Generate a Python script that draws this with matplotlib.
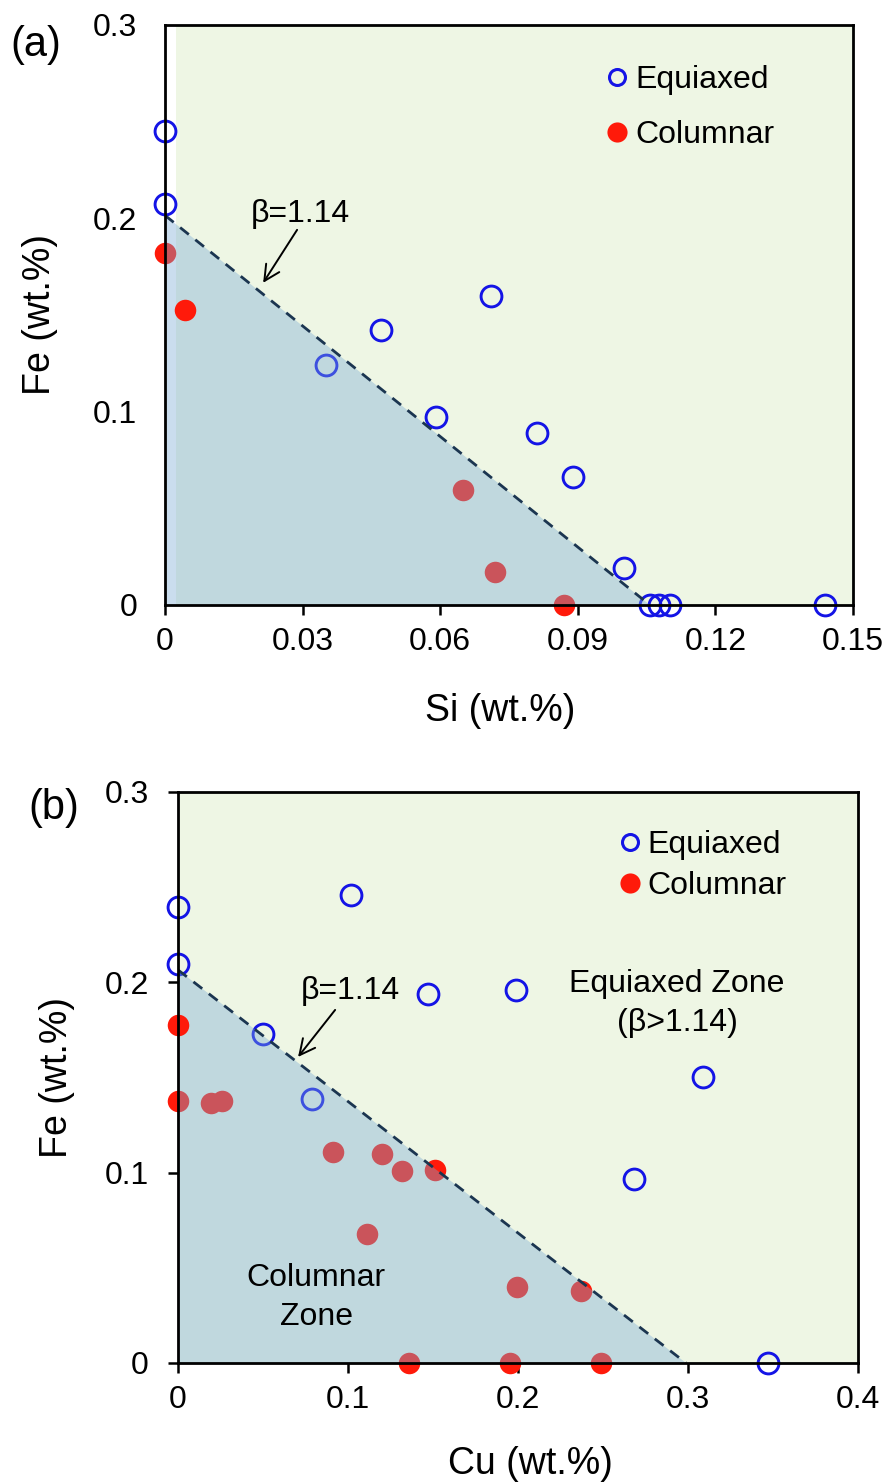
import numpy as np
import matplotlib
matplotlib.use("Agg")
import matplotlib.pyplot as plt
from matplotlib.lines import Line2D
from matplotlib.patches import Polygon, Rectangle

plt.rcParams['font.family'] = ['Liberation Sans', 'DejaVu Sans']

# ---- data: panel (a) Si vs Fe
si_eq = [0, 0, 0.035, 0.047, 0.059, 0.071, 0.081, 0.089, 0.100, 0.1057, 0.1077, 0.110, 0.144]
fe_eq_a = [0.245, 0.2075, 0.124, 0.142, 0.097, 0.160, 0.089, 0.066, 0.019, 0, 0, 0, 0]
si_col = [0, 0.065, 0.072, 0.087]
fe_col_a = [0.182, 0.0595, 0.017, 0]
si_col_top = [0.0044]          # drawn above the shading
fe_col_top_a = [0.1526]
line_a = ([0, 0.1057], [0.2015, 0])

# ---- data: panel (b) Cu vs Fe
cu_eq = [0, 0, 0.102, 0.050, 0.079, 0.147, 0.199, 0.309, 0.268, 0.347]
fe_eq_b = [0.2396, 0.2097, 0.246, 0.173, 0.1387, 0.194, 0.196, 0.150, 0.0967, 0]
cu_col = [0, 0.0194, 0.0259, 0.091, 0.120, 0.132, 0.151, 0.111, 0.1994, 0.237, 0.136, 0.1953, 0.2488]
fe_col_b = [0.1377, 0.1366, 0.1377, 0.1109, 0.1098, 0.1009, 0.1014, 0.0678, 0.040, 0.0378, 0, 0, 0]
cu_col_top = [0]
fe_col_top_b = [0.1776]
line_b = ([0, 0.2988], [0.2065, 0])

green = '#EEF6E4'
shade = '#7BACD5'
blue = '#1414E6'
red = '#FF1A0A'
FS = 23
FL = 27

fig = plt.figure(figsize=(8.88, 14.82), dpi=100)
ax1 = fig.add_axes([0.1858, 0.5918, 0.7748, 0.3914])
ax2 = fig.add_axes([0.2005, 0.0803, 0.7658, 0.3853])


def draw(ax, xe, ye, xc, yc, xt, yt, line, xmax, green_x0):
    ax.set_xlim(0, xmax)
    ax.set_ylim(0, 0.3)
    ax.add_patch(Rectangle((green_x0, 0), xmax - green_x0, 0.3, color=green, zorder=0, lw=0))
    ax.plot(xc, yc, 'o', ms=15.5, color=red, mec='none', zorder=2, clip_on=False)
    ax.plot(xe, ye, 'o', ms=15.0, mfc='none', mec=blue, mew=2.1, zorder=2, clip_on=False)
    tri = Polygon([(0, 0), (0, line[1][0]), (line[0][1], 0)], closed=True,
                  facecolor=shade, alpha=0.4, lw=0, zorder=3)
    ax.add_patch(tri)
    ax.plot(line[0], line[1], '--', color='#1B3550', lw=2.0, dashes=(4, 3), zorder=4)
    ax.plot(xt, yt, 'o', ms=15.5, color=red, mec='none', zorder=5, clip_on=False)
    for s in ax.spines.values():
        s.set_linewidth(2.0)
        s.set_zorder(6)
    ax.tick_params(labelsize=FS, width=1.8, length=7, direction='out')
    handles = [Line2D([], [], ls='none', marker='o', ms=11.5, mfc='none', mec=blue, mew=2.2),
               Line2D([], [], ls='none', marker='o', ms=14.5, color=red, mec='none')]
    return handles


def beta(ax, txt_xy, tail, head):
    ax.text(txt_xy[0], txt_xy[1], 'β=1.14', fontsize=FS, ha='center', va='center', zorder=7)
    ax.annotate('', xy=head, xytext=tail,
                arrowprops=dict(arrowstyle='->', color='black', lw=1.4, shrinkA=0, shrinkB=0,
                                mutation_scale=28), zorder=7)


h = draw(ax1, si_eq, fe_eq_a, si_col, fe_col_a, si_col_top, fe_col_top_a, line_a, 0.15, 0.0024)
ax1.set_xticks([0, 0.03, 0.06, 0.09, 0.12, 0.15])
ax1.set_xticklabels(['0', '0.03', '0.06', '0.09', '0.12', '0.15'])
ax1.set_yticks([0, 0.1, 0.2, 0.3])
ax1.set_yticklabels(['0', '0.1', '0.2', '0.3'])
ax1.tick_params(axis='y', length=0, pad=20)
ax1.tick_params(axis='x', pad=9)
ax1.set_xlabel('Si (wt.%)', fontsize=FL)
ax1.set_ylabel('Fe (wt.%)', fontsize=FL)
ax1.xaxis.set_label_coords(0.487, -0.152)
ax1.yaxis.set_label_coords(-0.156, 0.5)
ax1.legend(h, ['Equiaxed', 'Columnar'], loc='upper left', bbox_to_anchor=(0.625, 0.953),
           frameon=False, fontsize=FS, handlelength=0.6, handletextpad=0.25,
           labelspacing=0.8, borderaxespad=0)
beta(ax1, (0.0295, 0.202), (0.0288, 0.194), (0.0214, 0.1666))
fig.text(0.0405, 0.9696, '(a)', fontsize=30, ha='center', va='center')

h = draw(ax2, cu_eq, fe_eq_b, cu_col, fe_col_b, cu_col_top, fe_col_top_b, line_b, 0.4, 0.0)
ax2.set_xticks([0, 0.1, 0.2, 0.3, 0.4])
ax2.set_xticklabels(['0', '0.1', '0.2', '0.3', '0.4'])
ax2.set_yticks([0, 0.1, 0.2, 0.3])
ax2.set_yticklabels(['0', '0.1', '0.2', '0.3'])
ax2.tick_params(axis='x', pad=9)
ax2.tick_params(axis='y', pad=14)
ax2.set_xlabel('Cu (wt.%)', fontsize=FL)
ax2.set_ylabel('Fe (wt.%)', fontsize=FL)
ax2.xaxis.set_label_coords(0.518, -0.145)
ax2.yaxis.set_label_coords(-0.151, 0.5)
ax2.legend(h, ['Equiaxed', 'Columnar'], loc='upper left', bbox_to_anchor=(0.631, 0.956),
           frameon=False, fontsize=FS, handlelength=0.6, handletextpad=0.25,
           labelspacing=0.35, borderaxespad=0)
beta(ax2, (0.1012, 0.1955), (0.0924, 0.1855), (0.0706, 0.1608))
ax2.text(0.2935, 0.1992, 'Equiaxed Zone', fontsize=FS, ha='center', va='center', zorder=7)
ax2.text(0.2935, 0.1787, '(β>1.14)', fontsize=FS, ha='center', va='center', zorder=7)
ax2.text(0.0812, 0.0447, 'Columnar', fontsize=FS, ha='center', va='center', zorder=7)
ax2.text(0.0812, 0.0242, 'Zone', fontsize=FS, ha='center', va='center', zorder=7)
fig.text(0.061, 0.455, '(b)', fontsize=30, ha='center', va='center')

fig.savefig('out.png', dpi=100)
